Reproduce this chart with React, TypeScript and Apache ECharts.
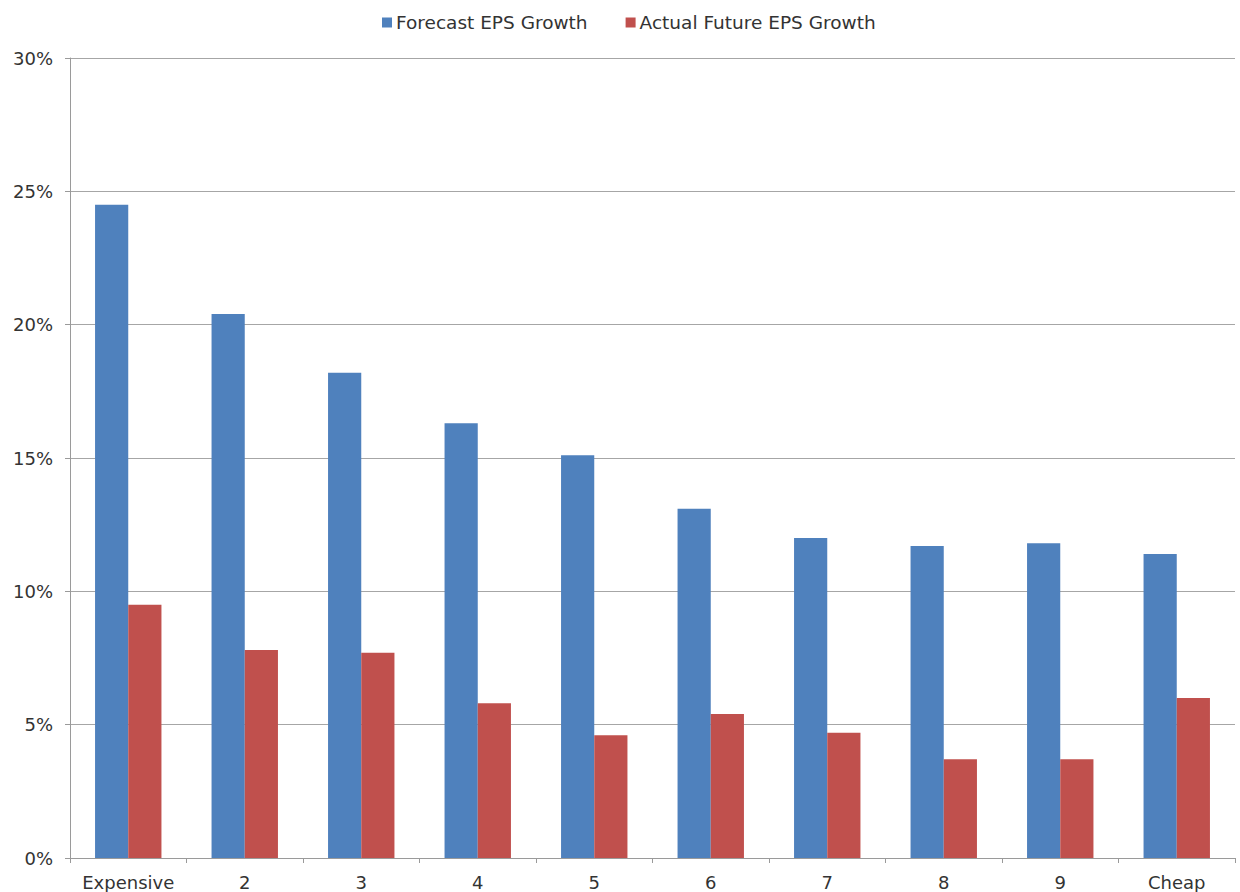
import React, { useEffect, useRef } from "react";
import * as echarts from "echarts";

// Valuation buckets, from most expensive to cheapest
const categories = ["Expensive", "2", "3", "4", "5", "6", "7", "8", "9", "Cheap"];

// EPS growth in percent
const forecastGrowth = [24.5, 20.4, 18.2, 16.3, 15.1, 13.1, 12.0, 11.7, 11.8, 11.4];
const actualGrowth = [9.5, 7.8, 7.7, 5.8, 4.6, 5.4, 4.7, 3.7, 3.7, 6.0];

const yTicks = [0, 5, 10, 15, 20, 25, 30];

const seriesNames = ["Forecast EPS Growth", "Actual Future EPS Growth"];
const seriesColors = ["#4F81BD", "#C0504D"];

const FONT = "DejaVu Sans";
const TEXT_COLOR = "#333333";
const LINE_COLOR = "#9a9a9a";

export default function App() {
  const ref = useRef<HTMLDivElement>(null);

  useEffect(() => {
    if (!ref.current) return;
    const chart = echarts.init(ref.current, undefined, { renderer: "svg" });
    chart.setOption({
      animation: false,
      backgroundColor: "#ffffff",
      textStyle: { fontFamily: FONT },
      legend: {
        top: 8,
        left: 377,
        itemWidth: 10,
        itemHeight: 10,
        itemGap: 38,
        icon: "rect",
        textStyle: { fontFamily: FONT, fontSize: 18.5, color: TEXT_COLOR, padding: [0, 0, 0, -1] },
        data: seriesNames,
      },
      grid: { left: 70, right: 5, top: 58, bottom: 34, containLabel: false },
      xAxis: {
        type: "category",
        data: categories,
        axisLine: { lineStyle: { color: LINE_COLOR, width: 1 } },
        axisTick: { show: true, interval: 0, alignWithLabel: false, length: 5, lineStyle: { color: LINE_COLOR } },
        axisLabel: { interval: 0, fontFamily: FONT, fontSize: 18, color: TEXT_COLOR, margin: 15 },
        splitLine: { show: false },
      },
      yAxis: {
        type: "value",
        min: yTicks[0],
        max: yTicks[yTicks.length - 1],
        interval: 5,
        axisLine: { show: true, lineStyle: { color: LINE_COLOR, width: 1 } },
        axisTick: { show: true, length: 5, lineStyle: { color: LINE_COLOR } },
        axisLabel: {
          fontFamily: FONT,
          fontSize: 18,
          color: TEXT_COLOR,
          margin: 17,
          formatter: (v: number) => `${v}%`,
        },
        splitLine: { show: true, lineStyle: { color: "#a6a6a6", width: 1 } },
      },
      series: [
        {
          name: seriesNames[0],
          type: "bar",
          data: forecastGrowth,
          itemStyle: { color: seriesColors[0] },
          barGap: "0%",
          barCategoryGap: "43%",
        },
        {
          name: seriesNames[1],
          type: "bar",
          data: actualGrowth,
          itemStyle: { color: seriesColors[1] },
          barGap: "0%",
          barCategoryGap: "43%",
        },
      ],
    });
    return () => chart.dispose();
  }, []);

  return <div ref={ref} style={{ width: 1240, height: 892, position: "absolute", left: 0, top: 0 }} />;
}
